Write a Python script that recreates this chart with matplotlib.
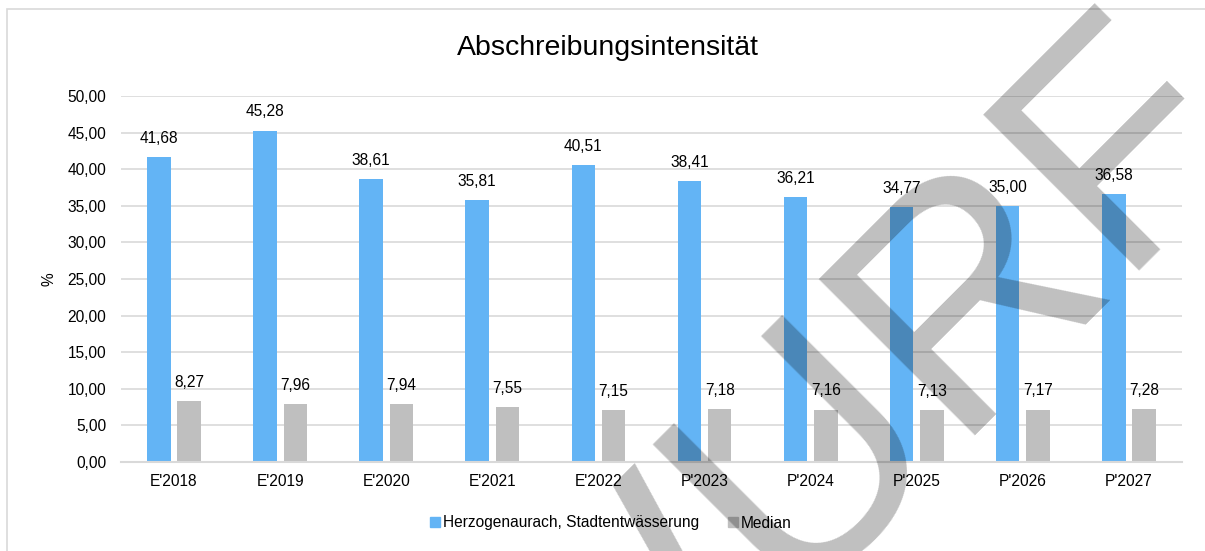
import matplotlib
matplotlib.use('Agg')
import matplotlib.pyplot as plt
from matplotlib.patches import Rectangle
import numpy as np

plt.rcParams['font.family'] = ['Liberation Sans', 'DejaVu Sans']

years = ["E'2018", "E'2019", "E'2020", "E'2021", "E'2022",
         "P'2023", "P'2024", "P'2025", "P'2026", "P'2027"]
herzogenaurach = [41.68, 45.28, 38.61, 35.81, 40.51, 38.41, 36.21, 34.77, 35.00, 36.58]
median = [8.27, 7.96, 7.94, 7.55, 7.15, 7.18, 7.16, 7.13, 7.17, 7.28]
yticks = [0, 5, 10, 15, 20, 25, 30, 35, 40, 45, 50]

blue = '#63B4F5'
grey = '#BFBFBF'
grid = '#D9D9D9'


def de(v):
    return f'{v:.2f}'.replace('.', ',')


fig = plt.figure(figsize=(12.05, 5.51), dpi=100)
ax = fig.add_axes([121 / 1205, 1 - 462 / 551, 1061 / 1205, 366 / 551])

x = np.arange(len(years))
w = 0.221
off = 0.143
b1 = ax.bar(x - off, herzogenaurach, w, color=blue, zorder=2)
b2 = ax.bar(x + off, median, w, color=grey, zorder=2)

for bars, vals in ((b1, herzogenaurach), (b2, median)):
    for r, v in zip(bars, vals):
        ax.annotate(de(v), (r.get_x() + r.get_width() / 2, v), xytext=(0, 8),
                    textcoords='offset points', ha='center', va='bottom',
                    fontsize=11.2, color='black')

ax.set_xlim(-0.5, len(years) - 0.5)
ax.set_ylim(0, 50)
ax.set_yticks(yticks)
ax.set_yticklabels([de(t) for t in yticks])
ax.set_xticks(x)
ax.set_xticklabels(years)
ax.tick_params(axis='both', length=0, labelsize=11.2, colors='black')
ax.tick_params(axis='y', pad=10.5)
ax.tick_params(axis='x', pad=8.5)
ax.yaxis.grid(True, color=grid, linewidth=1.2, zorder=0)
ax.set_axisbelow(True)
for s in ['top', 'right', 'left']:
    ax.spines[s].set_visible(False)
ax.spines['bottom'].set_color(grid)
ax.spines['bottom'].set_linewidth(1.5)
ax.set_ylabel('%', fontsize=11.2, labelpad=8)

fig.text(608 / 1205, 1 - 55 / 551, 'Abschreibungsintensität', ha='center',
         va='baseline', fontsize=20.5)

handles = [Rectangle((0, 0), 1, 1, color=blue), Rectangle((0, 0), 1, 1, color=grey)]
fig.legend(handles, ['Herzogenaurach, Stadtentwässerung', 'Median'], loc='center',
           bbox_to_anchor=(611 / 1205, 1 - 523 / 551), ncol=2, frameon=False,
           fontsize=11.2, handlelength=0.6, handleheight=0.6, handletextpad=0.2,
           columnspacing=1.9)

# chart frame (only left and top edges are inside the picture)
fig.patches.append(Rectangle((7 / 1205, -1), 3, 1 + (1 - 9 / 551), transform=fig.transFigure,
                             fill=False, edgecolor=grid, linewidth=1.2))

# watermark
fig.text(1253 / 1205, 1 - 131 / 551, 'ENTWURF', rotation=45, rotation_mode='anchor',
         ha='right', va='baseline', fontsize=232, color='black', alpha=0.25, zorder=10)

fig.savefig('out.png', dpi=100)
